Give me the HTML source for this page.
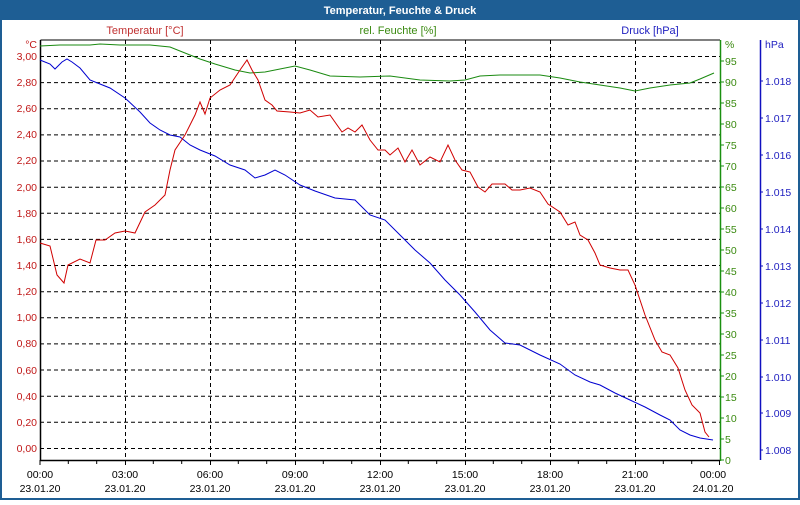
<!DOCTYPE html>
<html><head><meta charset="utf-8"><style>
body{margin:0;width:800px;height:500px;overflow:hidden;background:#fff;font-family:"Liberation Sans","DejaVu Sans",sans-serif}
</style></head><body>
<svg width="800" height="500" xmlns="http://www.w3.org/2000/svg" font-family="Liberation Sans, DejaVu Sans, sans-serif" font-size="11">
<rect x="0" y="0" width="800" height="500" fill="#1e5e94"/>
<rect x="2" y="20" width="796" height="478" fill="#fff"/>
<text x="400" y="14" text-anchor="middle" fill="#fff" font-weight="bold">Temperatur, Feuchte &amp; Druck</text>
<text x="145" y="34" text-anchor="middle" fill="#c03030">Temperatur [°C]</text>
<text x="398" y="34" text-anchor="middle" fill="#3a8a10">rel. Feuchte [%]</text>
<text x="650" y="34" text-anchor="middle" fill="#2020c0">Druck [hPa]</text>
<g stroke="#000" stroke-dasharray="4,3" stroke-width="1">
<line x1="40" x2="720" y1="56.5" y2="56.5"/><line x1="40" x2="720" y1="82.6" y2="82.6"/><line x1="40" x2="720" y1="108.8" y2="108.8"/><line x1="40" x2="720" y1="134.9" y2="134.9"/><line x1="40" x2="720" y1="161" y2="161"/><line x1="40" x2="720" y1="187.2" y2="187.2"/><line x1="40" x2="720" y1="213.3" y2="213.3"/><line x1="40" x2="720" y1="239.4" y2="239.4"/><line x1="40" x2="720" y1="265.5" y2="265.5"/><line x1="40" x2="720" y1="291.7" y2="291.7"/><line x1="40" x2="720" y1="317.8" y2="317.8"/><line x1="40" x2="720" y1="343.9" y2="343.9"/><line x1="40" x2="720" y1="370" y2="370"/><line x1="40" x2="720" y1="396.2" y2="396.2"/><line x1="40" x2="720" y1="422.3" y2="422.3"/><line x1="40" x2="720" y1="448.5" y2="448.5"/>
<line x1="125.5" x2="125.5" y1="40" y2="460"/><line x1="210.5" x2="210.5" y1="40" y2="460"/><line x1="295.5" x2="295.5" y1="40" y2="460"/><line x1="380.5" x2="380.5" y1="40" y2="460"/><line x1="465.5" x2="465.5" y1="40" y2="460"/><line x1="550.5" x2="550.5" y1="40" y2="460"/><line x1="635.5" x2="635.5" y1="40" y2="460"/>
</g>
<line x1="40.5" y1="40" x2="720" y2="40" stroke="#000"/>
<line x1="40.5" y1="40" x2="40.5" y2="461" stroke="#000" stroke-width="1.5"/>
<line x1="40" y1="460.5" x2="720" y2="460.5" stroke="#000" stroke-width="1.5"/>
<line x1="720.5" y1="40" x2="720.5" y2="461" stroke="#1a9010" stroke-width="1.5"/>
<line x1="760.5" y1="40" x2="760.5" y2="460" stroke="#1010c0" stroke-width="1.5"/>
<g stroke="#000">
<path d="M40 460v5M68.3 460v4M96.7 460v4M125.5 460v5M153.3 460v4M181.7 460v4M210.5 460v5M238.3 460v4M266.7 460v4M295.5 460v5M323.3 460v4M351.7 460v4M380.5 460v5M408.3 460v4M436.7 460v4M465.5 460v5M493.3 460v4M521.7 460v4M550.5 460v5M578.3 460v4M606.7 460v4M635.5 460v5M663.3 460v4M691.7 460v4M719.5 460v5"/>
</g>
<g fill="#000" text-anchor="middle" font-size="10.5">
<text x="40" y="478">00:00</text><text x="40" y="492">23.01.20</text>
<text x="125" y="478">03:00</text><text x="125" y="492">23.01.20</text>
<text x="210" y="478">06:00</text><text x="210" y="492">23.01.20</text>
<text x="295" y="478">09:00</text><text x="295" y="492">23.01.20</text>
<text x="380" y="478">12:00</text><text x="380" y="492">23.01.20</text>
<text x="465" y="478">15:00</text><text x="465" y="492">23.01.20</text>
<text x="550" y="478">18:00</text><text x="550" y="492">23.01.20</text>
<text x="635" y="478">21:00</text><text x="635" y="492">23.01.20</text>
<text x="713" y="478">00:00</text><text x="713" y="492">24.01.20</text>
</g>
<g fill="#c01818" text-anchor="end" font-size="10.5">
<text x="37" y="48">°C</text>
<text x="37" y="60">3,00</text><text x="37" y="86">2,80</text><text x="37" y="112">2,60</text><text x="37" y="138">2,40</text><text x="37" y="164">2,20</text><text x="37" y="191">2,00</text><text x="37" y="217">1,80</text><text x="37" y="243">1,60</text><text x="37" y="269">1,40</text><text x="37" y="295">1,20</text><text x="37" y="321">1,00</text><text x="37" y="347">0,80</text><text x="37" y="374">0,60</text><text x="37" y="400">0,40</text><text x="37" y="426">0,20</text><text x="37" y="452">0,00</text>
</g>
<g stroke="#1a9010"><path d="M720 61h4M720 82h4M720 103h4M720 124h4M720 145h4M720 166h4M720 187h4M720 208h4M720 229h4M720 250h4M720 271h4M720 292h4M720 313h4M720 334h4M720 355h4M720 376h4M720 397h4M720 418h4M720 439h4M720 460h4"/></g>
<g fill="#3a8a10" font-size="10.5">
<text x="725" y="48">%</text>
<text x="725" y="65">95</text><text x="725" y="86">90</text><text x="725" y="107">85</text><text x="725" y="128">80</text><text x="725" y="149">75</text><text x="725" y="170">70</text><text x="725" y="191">65</text><text x="725" y="212">60</text><text x="725" y="233">55</text><text x="725" y="254">50</text><text x="725" y="275">45</text><text x="725" y="296">40</text><text x="725" y="317">35</text><text x="725" y="338">30</text><text x="725" y="359">25</text><text x="725" y="380">20</text><text x="725" y="401">15</text><text x="725" y="422">10</text><text x="725" y="443">5</text><text x="725" y="464">0</text>
</g>
<g stroke="#1010c0"><path d="M760 81h3M760 118h3M760 155h3M760 192h3M760 229h3M760 266h3M760 303h3M760 340h3M760 377h3M760 413h3M760 450h3"/></g>
<g fill="#2020c0" font-size="10.5">
<text x="765" y="48">hPa</text>
<text x="765" y="85">1.018</text><text x="765" y="122">1.017</text><text x="765" y="159">1.016</text><text x="765" y="196">1.015</text><text x="765" y="233">1.014</text><text x="765" y="270">1.013</text><text x="765" y="307">1.012</text><text x="765" y="344">1.011</text><text x="765" y="381">1.010</text><text x="765" y="417">1.009</text><text x="765" y="454">1.008</text>
</g>
<polyline fill="none" stroke="#1a8a10" stroke-width="1" points="40,46 60,45 90,45 100,44 120,45 150,45 170,47 190,55 200,59 215,64 235,70 250,73 265,72 280,69 295,66 310,70 330,76 360,77 390,76 420,80 450,81 465,80 480,76 500,75 540,75 560,78 580,82 600,85 620,88 635,91 650,88 670,85 690,83 700,79 714,73"/>
<polyline fill="none" stroke="#0000d0" stroke-width="1" points="40,60 50,64 55,69 62,62 67,59 72,62 80,68 90,80 100,84 110,88 125,98 140,112 150,123 160,130 170,135 180,137 190,145 200,150 215,156 230,165 245,170 255,178 265,175 275,170 285,175 300,185 315,191 335,198 355,200 370,215 385,220 400,235 415,250 430,263 445,280 460,295 475,312 490,330 505,343 520,345 540,355 560,364 575,375 590,382 600,385 615,393 630,400 645,407 660,415 670,420 680,430 690,435 700,438 713,440"/>
<polyline fill="none" stroke="#d00000" stroke-width="1" points="40,243 50,246 57,275 64,283 68,265 80,259 90,263 96,240 105,240 115,233 125,231 135,233 145,212 155,205 165,195 170,170 175,150 185,135 195,115 200,102 205,114 210,98 220,90 230,85 240,70 247,60 252,70 258,80 265,100 272,105 277,111 290,112 300,113 310,110 318,117 330,115 342,132 348,128 355,132 362,125 370,140 378,150 385,150 390,155 398,148 405,162 412,150 420,165 430,157 440,162 448,145 455,160 462,170 470,172 478,187 485,192 492,184 505,184 512,190 520,190 530,188 540,192 548,204 560,212 568,225 575,222 580,235 588,240 595,253 600,265 610,268 620,270 628,270 635,285 645,315 655,340 662,352 670,355 678,368 685,390 692,405 700,413 705,432 709,437"/>
</svg>
</body></html>
